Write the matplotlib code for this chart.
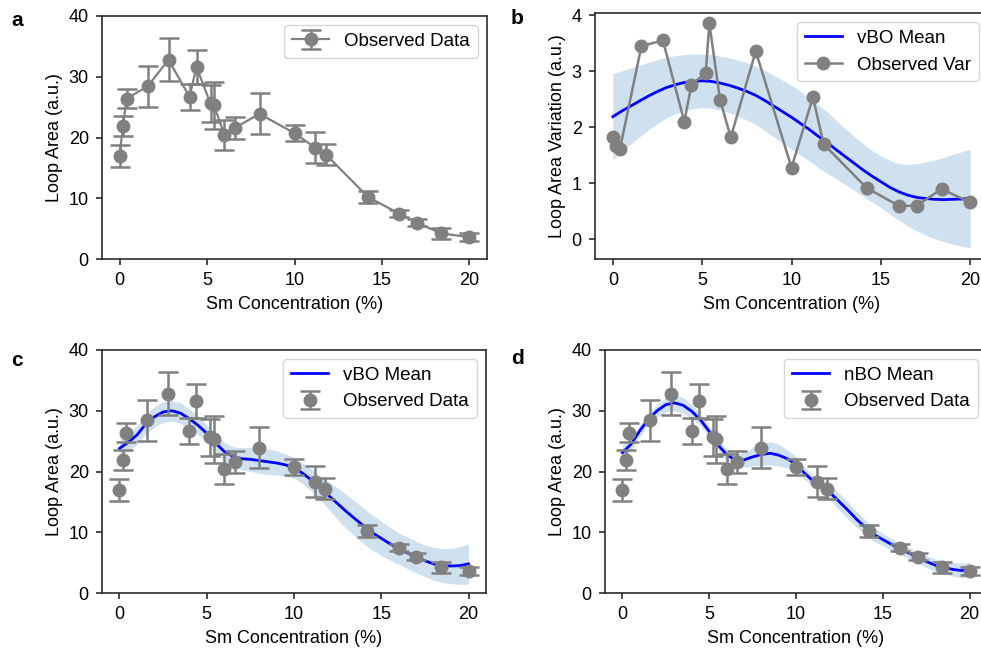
import matplotlib.pyplot as plt
import numpy as np

# observed data (Sm concentration in %)
conc = [0, 0.2, 0.4, 1.6, 2.8, 4.0, 4.4, 5.2, 5.4, 6.0, 6.6, 8.0, 10.0, 11.2, 11.8,
        14.2, 16.0, 17.0, 18.4, 20.0]
loop_area = [17.0, 21.9, 26.4, 28.4, 32.8, 26.7, 31.6, 25.6, 25.3, 20.4, 21.6, 23.9,
             20.7, 18.3, 17.2, 10.2, 7.45, 5.97, 4.2, 3.6]
loop_var = [1.82, 1.66, 1.62, 3.45, 3.55, 2.10, 2.76, 2.97, 3.86, 2.49, 1.82, 3.36,
            1.28, 2.54, 1.70, 0.92, 0.60, 0.60, 0.90, 0.66]

# model curves read at 0.5 % steps
grid = np.arange(0, 20.5, 0.5)
var_mean = [2.19, 2.29, 2.38, 2.47, 2.56, 2.64, 2.71, 2.76, 2.80, 2.82, 2.83, 2.82, 2.79,
            2.75, 2.70, 2.64, 2.57, 2.48, 2.38, 2.28, 2.18, 2.07, 1.96, 1.84, 1.73, 1.60,
            1.48, 1.36, 1.24, 1.13, 1.03, 0.93, 0.85, 0.79, 0.75, 0.73, 0.715, 0.71, 0.715,
            0.72, 0.73]
var_std = [0.77, 0.72, 0.68, 0.64, 0.60, 0.57, 0.54, 0.52, 0.50, 0.49, 0.48, 0.48, 0.48,
           0.49, 0.50, 0.51, 0.52, 0.54, 0.55, 0.56, 0.57, 0.57, 0.56, 0.56, 0.55, 0.52,
           0.50, 0.48, 0.47, 0.46, 0.46, 0.48, 0.50, 0.55, 0.60, 0.65, 0.70, 0.75, 0.80,
           0.84, 0.88]
vbo_mean = [23.8, 24.8, 26.0, 27.8, 29.0, 29.8, 30.0, 29.6, 28.7, 27.6, 26.3, 24.7, 23.3,
            22.5, 22.1, 22.0, 21.8, 21.6, 21.4, 21.1, 20.6, 19.7, 18.6, 17.3, 16.0, 14.7,
            13.4, 12.2, 11.0, 9.9, 9.0, 8.1, 7.3, 6.6, 5.9, 5.3, 4.8, 4.5, 4.45, 4.5, 4.8]
vbo_std = [1.3, 1.4, 1.5, 1.6, 1.7, 1.7, 1.7, 1.7, 1.6, 1.5, 1.4, 1.4, 1.5, 1.6, 1.8, 2.0,
           2.1, 2.1, 2.0, 1.8, 1.7, 1.7, 1.8, 2.0, 2.3, 2.6, 2.8, 2.9, 2.9, 2.9, 2.8, 2.7,
           2.6, 2.6, 2.6, 2.6, 2.7, 2.8, 2.9, 3.1, 3.3]
nbo_mean = [23.1, 24.5, 26.7, 28.6, 30.0, 31.0, 31.3, 30.9, 29.9, 28.5, 26.6, 24.4, 22.8,
            21.9, 21.9, 22.4, 22.8, 23.0, 22.7, 22.1, 21.2, 19.7, 18.4, 17.4, 16.4, 15.0,
            13.6, 12.1, 10.8, 9.6, 8.8, 8.0, 7.3, 6.6, 5.9, 5.2, 4.6, 4.2, 3.9, 3.7, 3.8]
nbo_std = [1.2, 1.0, 0.9, 0.9, 1.0, 1.2, 1.3, 1.3, 1.1, 1.0, 0.9, 0.9, 0.9, 1.0, 1.2, 1.5,
           1.8, 1.9, 1.8, 1.5, 1.2, 1.0, 0.9, 1.0, 1.2, 1.4, 1.4, 1.3, 1.2, 1.1, 1.0, 1.0,
           0.9, 0.9, 0.9, 1.0, 1.0, 1.1, 1.1, 1.2, 1.2]

plt.rcParams['font.family'] = ['Liberation Sans', 'DejaVu Sans']
plt.rcParams['font.size'] = 13

W, H = 981, 648
GRAY = '#808080'
BAND = '#cfe0ef'
DARK = '#2b2b2b'


def box(left, right, top, bottom):
    return [left / W, 1 - bottom / H, (right - left) / W, (bottom - top) / H]


fig = plt.figure(figsize=(9.81, 6.48), dpi=100)
ax_a = fig.add_axes(box(102, 487, 16, 259))
ax_b = fig.add_axes(box(595, 988, 13, 259))
ax_c = fig.add_axes(box(102, 486, 350, 593))
ax_d = fig.add_axes(box(605, 987, 350, 593))

eb_kw = dict(color=GRAY, ecolor=GRAY, marker='o', markersize=9, elinewidth=1.8,
             capsize=7, capthick=1.8)

# a
ax_a.errorbar(conc, loop_area, yerr=loop_var, linewidth=1.6, label='Observed Data', **eb_kw)

# b
m = np.array(var_mean)
s = np.array(var_std)
ax_b.fill_between(grid, m - s, m + s, color=BAND, linewidth=0)
ax_b.plot(grid, m, color='blue', linewidth=2, label='vBO Mean')
ax_b.plot(conc, loop_var, color=GRAY, marker='o', markersize=9, linewidth=1.8,
          label='Observed Var')
ax_b.set_ylim(-0.35, 4.04)
ax_b.set_yticks([0, 1, 2, 3, 4])
ax_b.set_ylabel('Loop Area Variation (a.u.)')

# c, d
for ax, mean, std, name in [(ax_c, vbo_mean, vbo_std, 'vBO Mean'),
                            (ax_d, nbo_mean, nbo_std, 'nBO Mean')]:
    m = np.array(mean)
    s = np.array(std)
    ax.fill_between(grid, m - s, m + s, color=BAND, linewidth=0)
    ax.plot(grid, m, color='blue', linewidth=2, label=name)
    ax.errorbar(conc, loop_area, yerr=loop_var, linestyle='none', label='Observed Data',
                **eb_kw)

for ax in [ax_a, ax_c, ax_d]:
    ax.set_ylim(0, 40)
    ax.set_yticks([0, 10, 20, 30, 40])
    ax.set_ylabel('Loop Area (a.u.)')

for ax in [ax_a, ax_b, ax_c, ax_d]:
    ax.set_xlim(-1, 21)
    ax.set_xticks([0, 5, 10, 15, 20])
    ax.set_xlabel('Sm Concentration (%)', labelpad=5)
    ax.legend(loc='upper right', fontsize=13.5)
    ax.tick_params(labelsize=13, length=4.5, width=1.2, pad=5, color=DARK)
    for sp in ax.spines.values():
        sp.set_linewidth(1.2)
        sp.set_color(DARK)

for x, y, t in [(17, 20, 'a'), (517, 19, 'b'), (17, 360, 'c'), (517, 358, 'd')]:
    fig.text(x / W, 1 - y / H, t, fontsize=15, fontweight='bold', ha='center', va='center')

fig.savefig('out.png', dpi=100)
